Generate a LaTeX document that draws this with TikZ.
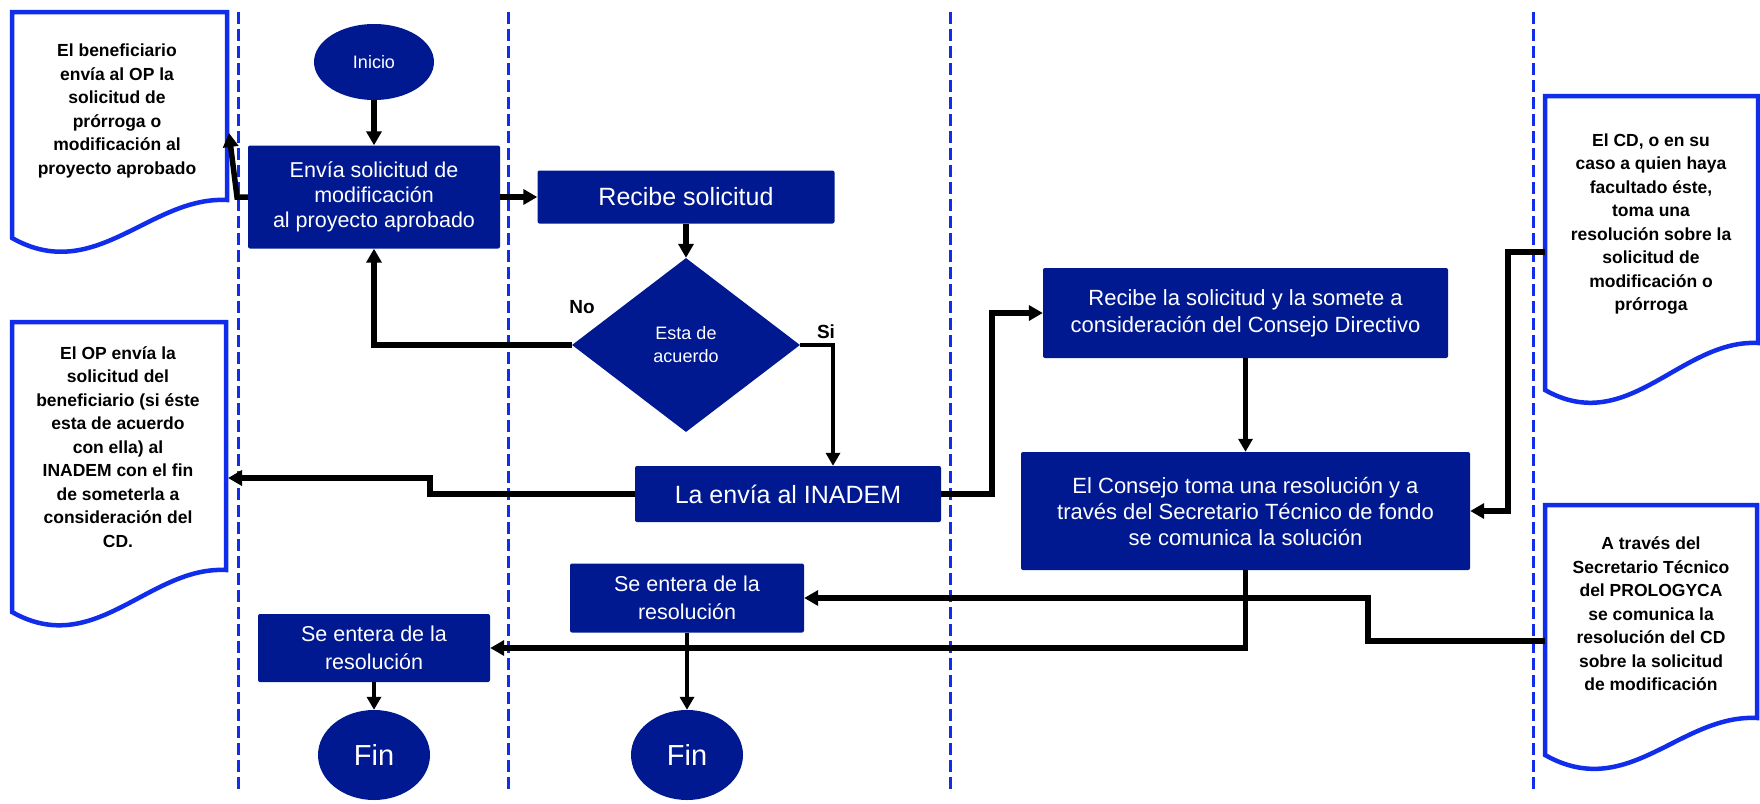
\documentclass[tikz,border=0pt]{standalone}
\usepackage{fontspec}
\setmainfont{Liberation Sans}
\usetikzlibrary{arrows.meta,shapes.geometric}
\definecolor{boxblue}{RGB}{0,25,145}
\definecolor{lineblue}{RGB}{15,45,235}
\begin{document}
\begin{tikzpicture}[x=1pt,y=-1pt,
  proc/.style={fill=boxblue, rounded corners=2pt, text=white, align=center, inner sep=0pt},
  term/.style={ellipse, fill=boxblue, text=white, inner sep=0pt},
  dec/.style={diamond, fill=boxblue, text=white, align=center, inner sep=0pt},
  docline/.style={draw=lineblue, line width=4.5pt},
  doctext/.style={align=center, font=\fontsize{17.5}{23.5}\selectfont\bfseries},
  lane/.style={draw=lineblue, line width=3pt, dash pattern=on 12pt off 5pt},
  conn/.style={line width=5.5pt, -{Triangle[length=14pt,width=15pt]}},
  connthin/.style={line width=4.5pt, -{Triangle[length=13pt,width=14pt]}},
  lbl/.style={font=\fontsize{19}{22}\selectfont\bfseries}
]
\useasboundingbox (0,0) rectangle (1760,803);

% swimlane separators
\foreach \lx in {238,508,950,1533} \draw[lane] (\lx,12) -- (\lx,792);

% document shapes
\draw[docline] (12,12) -- (227,12) -- (227,200) .. controls (150,196) and (95,285) .. (12,238) -- cycle;
\node[doctext] (d1) at (117,111) {El beneficiario\\envía al OP la\\solicitud de\\prórroga o\\modificación al\\proyecto aprobado};

\draw[docline] (12,322) -- (226,322) -- (226,570) .. controls (149,566) and (95,659) .. (12,612) -- cycle;
\node[doctext] (d2) at (118,447) {El OP envía la\\solicitud del\\beneficiario (si éste\\esta de acuerdo\\con ella) al\\INADEM con el fin\\de someterla a\\consideración del\\CD.};

\draw[docline] (1545,96) -- (1758,96) -- (1758,343) .. controls (1681,339) and (1628,437) .. (1545,390) -- cycle;
\node[doctext] (d3) at (1651,224) {El CD, o en su\\caso a quien haya\\facultado éste,\\toma una\\resolución sobre la\\solicitud de\\modificación o\\prórroga};

\draw[docline] (1545,505) -- (1757,505) -- (1757,718) .. controls (1680,714) and (1628,802) .. (1545,755) -- cycle;
\node[doctext] (d4) at (1651,614) {A través del\\Secretario Técnico\\del PROLOGYCA\\se comunica la\\resolución del CD\\sobre la solicitud\\de modificación};

% flow nodes
\node[term, minimum width=120pt, minimum height=76pt, font=\fontsize{18}{20}\selectfont] (ini) at (374,62) {Inicio};
\node[proc, minimum width=252pt, minimum height=103pt, font=\fontsize{21.5}{25}\selectfont] (ev) at (374,197) {Envía solicitud de\\modificación\\al proyecto aprobado};
\node[proc, minimum width=297pt, minimum height=53pt, font=\fontsize{25}{28}\selectfont] (rs) at (686,197) {Recibe solicitud};
\node[dec, minimum width=228pt, minimum height=174pt, font=\fontsize{18}{23}\selectfont] (dm) at (686,345) {Esta de\\acuerdo};
\node[proc, minimum width=306pt, minimum height=56pt, font=\fontsize{25}{28}\selectfont] (le) at (788,494) {La envía al INADEM};
\node[proc, minimum width=405pt, minimum height=90pt, font=\fontsize{22}{27}\selectfont] (rls) at (1245.5,313) {Recibe la solicitud y la somete a\\consideración del Consejo Directivo};
\node[proc, minimum width=449pt, minimum height=118pt, font=\fontsize{22}{26}\selectfont] (ec) at (1245.5,511) {El Consejo toma una resolución y a\\través del Secretario Técnico de fondo\\se comunica la solución};
\node[proc, minimum width=234pt, minimum height=69pt, font=\fontsize{21.5}{28}\selectfont] (sm) at (687,598) {Se entera de la\\resolución};
\node[proc, minimum width=232pt, minimum height=68pt, font=\fontsize{21.5}{28}\selectfont] (sl) at (374,648) {Se entera de la\\resolución};
\node[term, minimum width=112pt, minimum height=90pt, font=\fontsize{29}{32}\selectfont] (fm) at (687,755) {Fin};
\node[term, minimum width=112pt, minimum height=90pt, font=\fontsize{29}{32}\selectfont] (fl) at (374,755) {Fin};

% labels
\node[lbl] (no) at (582,307) {No};
\node[lbl] (si) at (826,332) {Si};

% connector end points on the documents
\coordinate (d1e) at (229,133);
\coordinate (d2e) at (228,478);
\coordinate (d3w) at (1545,252);
\coordinate (d4w) at (1545,641);

% connectors
\draw[conn] (ini.south) -- (ev.north);
\draw[conn] (ev.east) -- (rs.west);
\draw[conn] (ev.west) -- (237,197) -- (d1e);
\draw[conn] (rs.south) -- (dm.north);
\draw[conn] (dm.west) -| (ev.south);
\draw[connthin] (dm.east) -| ([xshift=45pt]le.north);
\draw[conn] (le.west) -| (430,478) -- (d2e);
\draw[conn] (le.east) -| (992,400) |- (rls.west);
\draw[connthin] (rls.south) -- (ec.north);
\draw[conn] (d3w) -| (1508,400) |- (ec.east);
\draw[conn] (ec.south) |- (sl.east);
\draw[conn] (d4w) -| (1368,620) |- (sm.east);
\draw[connthin] (sm.south) -- (fm.north);
\draw[connthin] (sl.south) -- (fl.north);
\end{tikzpicture}
\end{document}
